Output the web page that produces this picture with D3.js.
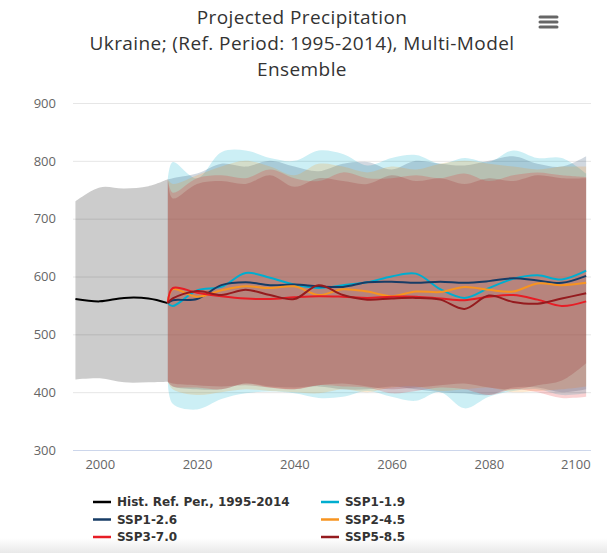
<!DOCTYPE html>
<html>
<head>
<meta charset="utf-8">
<script src="https://cdnjs.cloudflare.com/ajax/libs/d3/7.8.5/d3.min.js"></script>
<style>
  body { margin: 0; background: #fff; }
  svg { display: block; font-family: "Open Sans", sans-serif; }
</style>
</head>
<body>
<div id="chart"></div>
<script>
// historical reference period
const histYears = [1995, 2000, 2005, 2010, 2014];
const histMean  = [561, 557, 563, 562, 554];
const histLow   = [422, 424, 417, 417, 418];
const histHigh  = [730, 754, 752, 756, 768];

// projections
const projYears = [2014, 2015, 2020, 2025, 2030, 2035, 2040, 2045, 2050, 2055, 2060, 2065, 2070, 2075, 2080, 2085, 2090, 2095, 2100];

const ssp119Mean = [554, 549, 576, 582, 606, 598, 586, 580, 585, 590, 600, 605, 578, 563, 580, 596, 602, 595, 610];
const ssp126Mean = [554, 559, 561, 585, 590, 585, 586, 583, 582, 590, 591, 589, 591, 589, 592, 597, 593, 589, 601];
const ssp245Mean = [554, 578, 565, 576, 583, 580, 583, 568, 578, 574, 566, 574, 573, 582, 577, 574, 588, 585, 589];
const ssp370Mean = [554, 580, 572, 566, 562, 561, 564, 566, 565, 563, 565, 565, 562, 559, 565, 568, 560, 549, 557];
const ssp585Mean = [554, 562, 575, 568, 577, 568, 561, 585, 568, 560, 562, 563, 560, 544, 567, 556, 553, 562, 571];

const ssp119High = [768, 798, 770, 815, 818, 805, 800, 818, 812, 792, 805, 810, 795, 805, 798, 818, 805, 805, 778];
const ssp119Low  = [418, 380, 370, 388, 398, 401, 398, 390, 392, 402, 392, 385, 400, 372, 392, 402, 405, 395, 398];
const ssp126High = [768, 770, 778, 795, 790, 800, 790, 782, 795, 798, 785, 800, 795, 792, 800, 808, 795, 790, 808];
const ssp126Low  = [418, 410, 405, 405, 415, 410, 408, 410, 405, 405, 410, 405, 400, 398, 395, 408, 408, 400, 405];
const ssp245High = [768, 760, 775, 790, 800, 790, 775, 795, 790, 780, 790, 785, 795, 800, 795, 790, 785, 790, 790];
const ssp245Low  = [418, 405, 395, 400, 405, 402, 400, 398, 405, 400, 408, 410, 402, 405, 408, 400, 402, 405, 410];
const ssp370High = [768, 745, 770, 775, 770, 785, 770, 765, 780, 770, 770, 775, 770, 778, 765, 775, 780, 775, 772];
const ssp370Low  = [418, 410, 408, 405, 415, 408, 405, 412, 410, 408, 398, 402, 408, 405, 395, 405, 400, 390, 392];
const ssp585High = [768, 735, 760, 765, 760, 775, 755, 770, 765, 760, 775, 765, 770, 760, 770, 765, 775, 770, 770];
const ssp585Low  = [418, 415, 412, 410, 412, 408, 405, 412, 415, 410, 405, 408, 412, 415, 408, 405, 412, 420, 450];

const yTicks = [300, 400, 500, 600, 700, 800, 900];
const xTicks = [2000, 2020, 2040, 2060, 2080, 2100];

const scenarios = [
  { name: "SSP1-1.9", color: "#00adcf", mean: ssp119Mean, low: ssp119Low, high: ssp119High },
  { name: "SSP1-2.6", color: "#173c66", mean: ssp126Mean, low: ssp126Low, high: ssp126High },
  { name: "SSP2-4.5", color: "#f79420", mean: ssp245Mean, low: ssp245Low, high: ssp245High },
  { name: "SSP3-7.0", color: "#e71d25", mean: ssp370Mean, low: ssp370Low, high: ssp370High },
  { name: "SSP5-8.5", color: "#951b1e", mean: ssp585Mean, low: ssp585Low, high: ssp585High }
];

function render(){
  let width = 607, height = 553,
      left = 73, right = 591, top = 103, bottom = 450;

  let svg = d3.select("#chart").append("svg").attr("width", width).attr("height", height);

  // faint page shade at the bottom
  let grad = svg.append("defs").append("linearGradient").attr("id", "shade")
      .attr("x1", 0).attr("y1", 0).attr("x2", 0).attr("y2", 1);
  grad.append("stop").attr("offset", "0%").attr("stop-color", "#fff");
  grad.append("stop").attr("offset", "100%").attr("stop-color", "#e9e9e9");
  svg.append("rect").attr("x", 0).attr("y", 538).attr("width", width).attr("height", 15).attr("fill", "url(#shade)");

  let xScale = d3.scaleLinear().domain([1994.5, 2101]).range([left, right]);
  let yScale = d3.scaleLinear().domain([300, 900]).range([bottom, top]);

  // title
  let title = ["Projected Precipitation", "Ukraine; (Ref. Period: 1995-2014), Multi-Model", "Ensemble"];
  svg.append("g").selectAll("text").data(title).enter().append("text")
    .attr("x", 302).attr("y", (d, i) => 24 + i * 26)
    .attr("text-anchor", "middle").attr("font-size", 19).attr("letter-spacing", 0.4).attr("fill", "#333")
    .text(d => d);

  // menu button
  svg.append("g").selectAll("line").data([0, 1, 2]).enter().append("line")
    .attr("x1", 540).attr("x2", 557)
    .attr("y1", d => 17 + d * 5).attr("y2", d => 17 + d * 5)
    .attr("stroke", "#666").attr("stroke-width", 3).attr("stroke-linecap", "round");

  // grid
  let yAxis = d3.axisLeft(yScale).tickValues(yTicks).tickSize(-(right - left)).tickPadding(17);
  let yGroup = svg.append("g").attr("transform", `translate(${left},0)`).call(yAxis);
  yGroup.select(".domain").remove();
  yGroup.selectAll(".tick line").attr("stroke", d => d === 300 ? "#ccd6eb" : "#e6e6e6");
  yGroup.selectAll(".tick text").attr("font-size", 13).attr("fill", "#666").attr("font-family", "Open Sans");

  let xAxis = d3.axisBottom(xScale).tickValues(xTicks).tickSize(0).tickPadding(10).tickFormat(d3.format("d"));
  let xGroup = svg.append("g").attr("transform", `translate(0,${bottom})`).call(xAxis);
  xGroup.select(".domain").remove();
  xGroup.selectAll(".tick text").attr("font-size", 13).attr("fill", "#666").attr("font-family", "Open Sans")
    .attr("text-anchor", d => d === 2100 ? "end" : "middle")
    .attr("dx", d => d === 2100 ? 4 : 0);

  let curve = d3.curveCatmullRom.alpha(0.5);
  let plot = svg.append("g");

  // bands
  let histBand = d3.area().x((d, i) => xScale(histYears[i])).y0((d, i) => yScale(histLow[i])).y1((d, i) => yScale(histHigh[i])).curve(curve);
  plot.append("path").attr("d", histBand(histYears)).attr("fill", "#000").attr("fill-opacity", 0.2);

  scenarios.forEach(s => {
    let band = d3.area().x((d, i) => xScale(projYears[i])).y0((d, i) => yScale(s.low[i])).y1((d, i) => yScale(s.high[i])).curve(curve);
    plot.append("path").attr("d", band(projYears)).attr("fill", s.color).attr("fill-opacity", 0.2);
  });

  // lines
  let histLine = d3.line().x((d, i) => xScale(histYears[i])).y((d, i) => yScale(histMean[i])).curve(curve);
  plot.append("path").attr("d", histLine(histYears)).attr("fill", "none").attr("stroke", "#000").attr("stroke-width", 2);

  scenarios.forEach(s => {
    let line = d3.line().x((d, i) => xScale(projYears[i])).y((d, i) => yScale(s.mean[i])).curve(curve);
    plot.append("path").attr("d", line(projYears)).attr("fill", "none").attr("stroke", s.color).attr("stroke-width", 2);
  });

  // legend
  let items = [{ name: "Hist. Ref. Per., 1995-2014", color: "#000" }].concat(scenarios);
  let legend = svg.append("g").selectAll("g").data(items).enter().append("g")
    .attr("transform", (d, i) => `translate(${i % 2 ? 321 : 93},${502 + Math.floor(i / 2) * 17.5})`);
  legend.append("line").attr("x1", 0).attr("x2", 18).attr("stroke", d => d.color).attr("stroke-width", 2.5);
  legend.append("text").attr("x", 24).attr("dy", "0.35em").attr("font-size", 12).attr("font-weight", "bold")
    .attr("font-family", "DejaVu Sans").attr("fill", "#333").text(d => d.name);
}

render();
</script>
</body>
</html>
